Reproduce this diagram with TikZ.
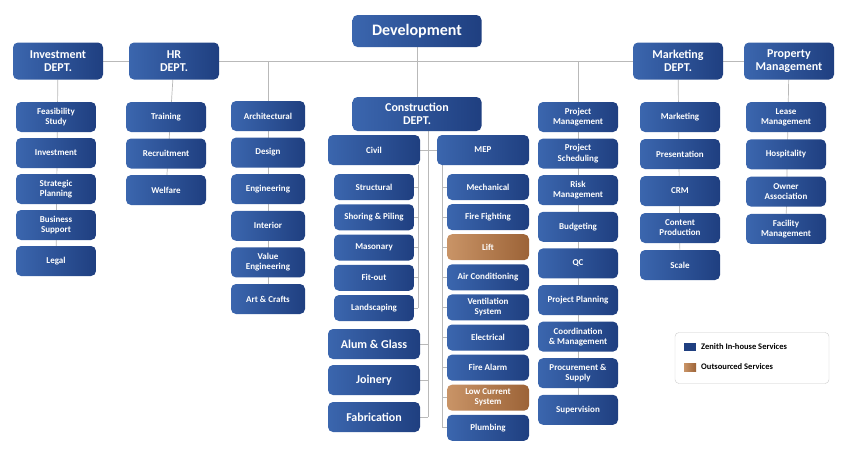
\documentclass[tikz,border=0pt]{standalone}
\usepackage{fontspec}
\setmainfont{Carlito}
\usetikzlibrary{backgrounds}
\definecolor{blueL}{HTML}{3B66AE}
\definecolor{blueD}{HTML}{1F3F80}
\definecolor{bronzeL}{HTML}{C99467}
\definecolor{bronzeD}{HTML}{9C6337}
\tikzset{
  box/.style={rounded corners=5pt, left color=blueL, right color=blueD, text=white,
    font=\bfseries\fontsize{9}{10}\selectfont, align=center, minimum width=80pt,
    minimum height=30pt, inner sep=1pt},
  small/.style={box, minimum height=26pt},
  outsrc/.style={left color=bronzeL, right color=bronzeD},
  dept/.style={box, minimum width=90pt, minimum height=37pt, font=\bfseries\fontsize{12}{13}\selectfont},
  big/.style={box, minimum width=92pt, font=\bfseries\fontsize{12}{13}\selectfont},
  link/.style={draw=gray!55, line width=0.7pt}
}
\begin{document}
\begin{tikzpicture}[x=1pt,y=-1pt]
\useasboundingbox (0,0) rectangle (842,461);

\node[dept, minimum width=129pt, minimum height=32pt, font=\bfseries\fontsize{16}{17}\selectfont] (dev) at (417,31) {Development};
\node[dept] (inv) at (58,61) {Investment\\DEPT.};
\node[dept] (hr) at (174,61) {HR\\DEPT.};
\node[dept] (mkt) at (678,61) {Marketing\\DEPT.};
\node[dept] (prop) at (789,61) {Property\\Management};
\node[dept, minimum width=129pt, minimum height=34pt] (con) at (417,114) {Construction\\DEPT.};

% side columns
\foreach \t [count=\i] in {Feasibility\\Study, Investment, Strategic\\Planning, Business\\Support, Legal}
  \node[box] (inv\i) at (56,{117+36*(\i-1)}) {\t};
\foreach \t [count=\i] in {Training, Recruitment, Welfare}
  \node[box] (hr\i) at (166,{117+36.5*(\i-1)}) {\t};
\foreach \t [count=\i] in {Architectural, Design, Engineering, Interior, Value\\Engineering, Art \& Crafts}
  \node[box, minimum width=74pt] (arc\i) at (268,{116+36.6*(\i-1)}) {\t};
\foreach \t [count=\i] in {Project\\Management, Project\\Scheduling, Risk\\Management, Budgeting, QC, Project Planning, Coordination\\\& Management, Procurement \&\\Supply, Supervision}
  \node[box] (prj\i) at (578,{117+36.6*(\i-1)}) {\t};
\foreach \t [count=\i] in {Marketing, Presentation, CRM, Content\\Production, Scale}
  \node[box] (mkt\i) at (680,{117+37*(\i-1)}) {\t};
\foreach \t [count=\i] in {Lease\\Management, Hospitality, Owner\\Association, Facility\\Management}
  \node[box] (prp\i) at (786,{117+37.3*(\i-1)}) {\t};

% construction
\node[box, minimum width=92pt] (civ) at (374,150) {Civil};
\node[box, minimum width=92pt] (mep) at (483,150) {MEP};
\foreach \t [count=\i] in {Structural, Shoring \& Piling, Masonary, Fit-out, Landscaping}
  \node[small] (civ\i) at (374,{187+30.25*(\i-1)}) {\t};
\node[big] (alum) at (374,344) {Alum \& Glass};
\node[big] (join) at (374,380) {Joinery};
\node[big] (fab) at (374,417) {Fabrication};
\foreach \t/\s [count=\i] in {Mechanical/, Fire Fighting/, Lift/outsrc, Air Conditioning/, Ventilation\\System/, Electrical/, Fire Alarm/, Low Current\\System/outsrc, Plumbing/}
  \node[small, minimum width=82pt, \s] (mep\i) at (488,{187+30.1*(\i-1)}) {\t};

\coordinate (cspine) at (428,0);
\coordinate (vspine) at (418,0);
\coordinate (mspine) at (442,0);

\begin{scope}[on background layer]
\draw[link] (inv) -- (prop);
\draw[link] (dev) -- (con);
\draw[link] (arc1) -- (arc1 |- inv);
\draw[link] (prj1) -- (prj1 |- inv);
\draw[link] (inv) -- (inv5);
\draw[link] (hr) -- (hr3);
\draw[link] (mkt) -- (mkt5);
\draw[link] (prop) -- (prp4);
\draw[link] (arc1) -- (arc6);
\draw[link] (prj1) -- (prj9);
\draw[link] (civ) -- (mep);
\draw[link] (con.south -| cspine) -- (fab -| cspine);
\draw[link] (civ.south -| vspine) -- (civ5 -| vspine);
\draw[link] (mep.south -| mspine) -- (mep9 -| mspine);
\foreach \n in {alum, join, fab} \draw[link] (\n) -- (\n -| cspine);
\foreach \i in {1,...,5} \draw[link] (civ\i) -- (civ\i -| vspine);
\foreach \i in {1,...,9} \draw[link] (mep\i) -- (mep\i -| mspine);
\end{scope}

% legend
\node[draw=gray!40, rounded corners=4pt, fill=white, minimum width=154pt, minimum height=51pt] (leg) at (752,358) {};
\node[fill=blueD, minimum width=12pt, minimum height=8pt, inner sep=0pt] (key1) at (690,347) {};
\node[outsrc, minimum width=12pt, minimum height=8pt, inner sep=0pt] (key2) at (690,367) {};
\node[anchor=west, font=\bfseries\fontsize{8.5}{9}\selectfont, inner sep=0pt] (lab1) at (701,347) {Zenith In-house Services};
\node[anchor=west, font=\bfseries\fontsize{8.5}{9}\selectfont, inner sep=0pt] (lab2) at (701,367) {Outsourced Services};
\end{tikzpicture}
\end{document}
